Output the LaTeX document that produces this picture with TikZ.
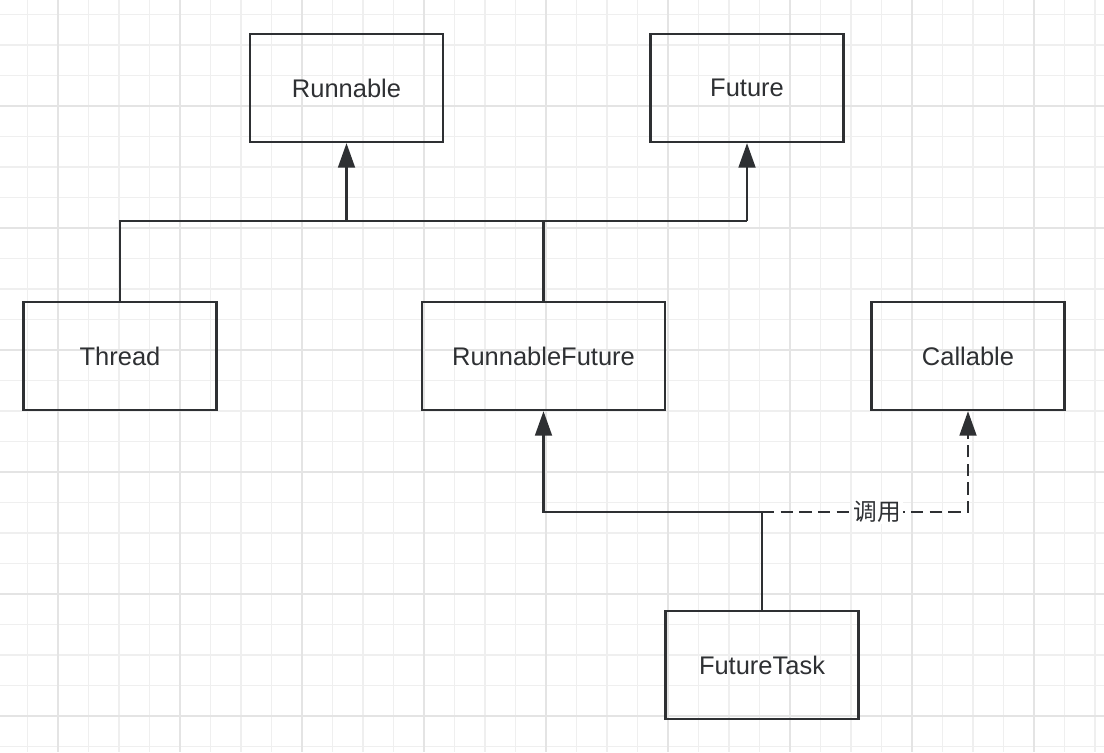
\documentclass[tikz,border=0pt]{standalone}
\usepackage{fontspec}
\setmainfont{Liberation Sans}
\newfontfamily\cjk{Noto Sans CJK SC}
\usepackage{tikz}
\usetikzlibrary{arrows.meta}
\definecolor{ink}{HTML}{2E3033}
\definecolor{gridminor}{HTML}{EFEFEF}
\definecolor{gridmajor}{HTML}{E4E4E4}
\tikzset{
  every picture/.style={line join=miter, >=Stealth},
  cls/.style={draw=ink, line width=1.3pt, minimum height=2.16cm, text=ink,
    font=\fontsize{14.5}{17}\selectfont, inner sep=0pt},
  link/.style={draw=ink, line width=1.3pt},
  inherit/.style={link, -{Triangle[length=14pt,width=9.6pt]}},
  calls/.style={inherit, dash pattern=on 7pt off 3.6pt},
  tag/.style={fill=white, text=ink, inner sep=1pt, font=\cjk\fontsize{13.5}{16}\selectfont},
}

\begin{document}
\begin{tikzpicture}[x=0.02cm,y=-0.02cm]
\useasboundingbox (0,0) rectangle (1104,752);
% grid
\foreach \k in {0,...,35}{\draw[gridminor,line width=0.7pt](27.5+30.5*\k,0)--(27.5+30.5*\k,752);}
\foreach \k in {0,...,24}{\draw[gridminor,line width=0.7pt](0,14.5+30.5*\k)--(1104,14.5+30.5*\k);}
\foreach \k in {0,...,8}{\draw[gridmajor,line width=0.85pt](58+122*\k,0)--(58+122*\k,752);}
\foreach \k in {0,...,5}{\draw[gridmajor,line width=0.85pt](0,106+122*\k)--(1104,106+122*\k);}

% classes
\node[cls,minimum width=3.86cm] (runnable) at (346.5,88) {Runnable};
\node[cls,minimum width=3.86cm] (future) at (747,88) {Future};
\node[cls,minimum width=3.86cm] (thread) at (120,356) {Thread};
\node[cls,minimum width=4.86cm] (rfuture) at (543.5,356) {RunnableFuture};
\node[cls,minimum width=3.86cm] (callable) at (968,356) {Callable};
\node[cls,minimum width=3.86cm] (task) at (762,665) {FutureTask};

\coordinate (bus) at (0,221);
\coordinate (split) at (762,512);

% upper links
\draw[link] (thread.north) |- (bus -| future.south);
\draw[link] (rfuture.north) -- (bus -| rfuture.north);
\draw[inherit] (bus -| runnable.south) -- (runnable.south);
\draw[inherit] (bus -| future.south) -- (future.south);

% lower links
\draw[link] (task.north) -- (split);
\draw[inherit] (split) -| (rfuture.south);
\draw[calls] (split) -| node[tag,pos=0.28] (calltag) {调用} (callable.south);
\end{tikzpicture}
\end{document}
